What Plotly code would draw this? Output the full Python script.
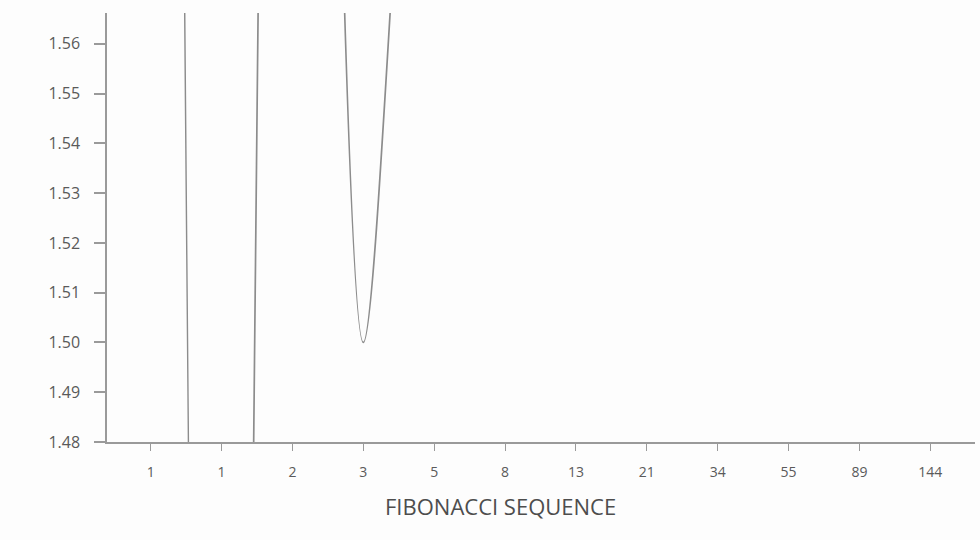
import plotly.graph_objects as go

fib_labels = ["1", "1", "2", "3", "5", "8", "13", "21", "34", "55", "89", "144"]
ratios = [2.5, 1.0, 2.0, 1.5, 1.6667, 1.6, 1.625, 1.6154, 1.6190, 1.6176, 1.6182, 1.6180]
positions = list(range(len(fib_labels)))
y_ticks = [1.48, 1.49, 1.50, 1.51, 1.52, 1.53, 1.54, 1.55, 1.56]
x_title = "FIBONACCI SEQUENCE"

fig = go.Figure()
fig.add_trace(go.Scatter(
    x=positions, y=ratios, mode="lines",
    line=dict(color="#8c8c8c", width=1.7, shape="spline", smoothing=0.8),
    hoverinfo="skip", showlegend=False,
))

axis_col = "#9a9a9a"
txt_col = "#5a5a5a"
fig.update_layout(
    width=980, height=540,
    margin=dict(l=107, r=5, t=13, b=98),
    paper_bgcolor="#fdfdfd", plot_bgcolor="#fdfdfd",
    font=dict(family="Open Sans, Liberation Sans, sans-serif", color=txt_col),
    xaxis=dict(
        range=[-0.616, 11.63], tickmode="array", tickvals=positions, ticktext=fib_labels,
        showgrid=False, zeroline=False, showline=True, linecolor=axis_col, linewidth=1.5,
        ticks="outside", ticklen=7, tickcolor=axis_col, tickwidth=1.2,
        ticklabelstandoff=9,
        tickfont=dict(size=14, color=txt_col),
    ),
    yaxis=dict(
        range=[1.48, 1.5662], tickmode="array", tickvals=y_ticks,
        tickformat=".2f", automargin=False,
        showgrid=False, zeroline=False, showline=True, linecolor=axis_col, linewidth=1.5,
        ticks="outside", ticklen=11, tickcolor=axis_col, tickwidth=1.5,
        ticklabelstandoff=11,
        tickfont=dict(size=16, color=txt_col),
    ),
    annotations=[dict(
        text=x_title, xref="paper", yref="paper", x=0.4528, y=-0.149,
        xanchor="center", yanchor="middle", showarrow=False,
        font=dict(size=22, color="#4d4d4d"),
    )],
)

fig.write_html(
    "out.html",
    config={"displayModeBar": False},
    post_script="document.body.style.margin='0';document.body.style.overflow='hidden';",
)
